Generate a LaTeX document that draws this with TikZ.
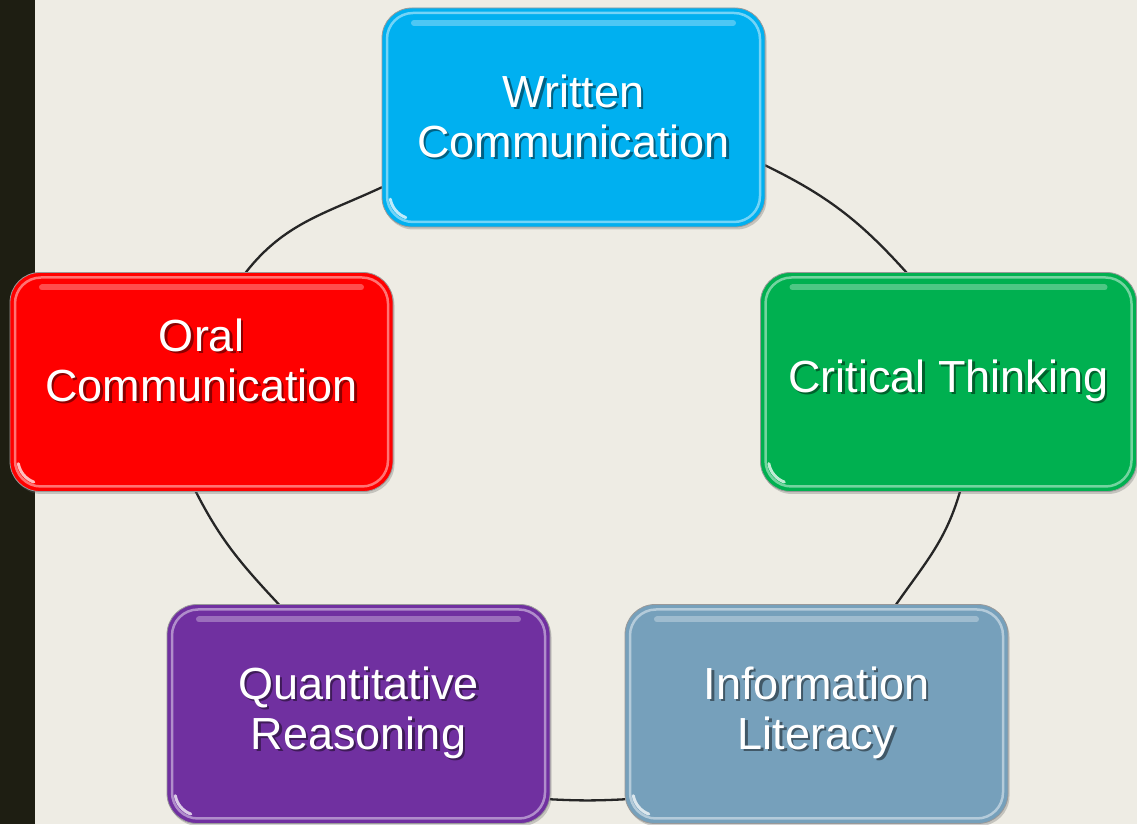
\documentclass[tikz,border=0pt]{standalone}
\usepackage{fontspec}
\setmainfont{Liberation Sans}
\usetikzlibrary{calc,shadows}
\pgfdeclarelayer{back}
\pgfdeclarelayer{lines}
\pgfsetlayers{back,lines,main}
\definecolor{bgc}{RGB}{238,236,228}
\definecolor{barc}{RGB}{30,30,18}
\definecolor{wcol}{RGB}{0,176,240}
\definecolor{ocol}{RGB}{255,0,0}
\definecolor{ccol}{RGB}{0,176,80}
\definecolor{qcol}{RGB}{112,48,160}
\definecolor{icol}{RGB}{118,160,187}
\newcommand\sh[1]{\makebox[0pt][l]{\hspace{2.5pt}\raisebox{-2.5pt}{\textcolor{shc}{#1}}}#1}
\tikzset{
  box/.style={rectangle, rounded corners=30pt, fill=#1, draw=black!40, line width=0.8pt,
    minimum width=383pt, minimum height=219pt, inner sep=0pt, outer sep=0pt,
    text=white, align=center, font=\fontsize{45}{50}\selectfont,
    execute at begin node={\colorlet{shc}{#1!55!black}},
    drop shadow={shadow xshift=1.5pt, shadow yshift=-2.5pt, opacity=0.3, fill=black!60},
    path picture={
      \draw[#1!55!white, line width=2.5pt, rounded corners=26pt]
        ($(path picture bounding box.south west)+(5pt,5pt)$) rectangle
        ($(path picture bounding box.north east)+(-5pt,-5pt)$);
      \draw[white, opacity=0.3, line width=6pt, line cap=round]
        ($(path picture bounding box.north west)+(32pt,-15pt)$) --
        ($(path picture bounding box.north east)+(-32pt,-15pt)$);
      \draw[white, opacity=0.75, line width=3pt, line cap=round]
        ($(path picture bounding box.south west)+(32pt,32pt)+(190:24pt)$)
        arc[start angle=190, end angle=250, radius=24pt];
    }},
  link/.style={draw=black!85, line width=2.3pt},
}
\begin{document}
\begin{tikzpicture}[x=1pt,y=1pt]
\useasboundingbox (0,0) rectangle (1137,824);
\begin{pgfonlayer}{back}
  \fill[bgc] (0,0) rectangle (1137,824);
  \fill[barc] (0,0) rectangle (35,824);
\end{pgfonlayer}

\node[box=wcol] (w) at (573.5,706.5) {\sh{Written}\\\sh{Communication}};
\node[box=ocol] (o) at (201.5,442) {\sh{Oral}\\\sh{Communication}\\[-6pt]\mbox{}};
\node[box=ccol, minimum width=376pt] (c) at (948.5,442) {\sh{Critical Thinking}};
\node[box=qcol] (q) at (358.5,110) {\sh{Quantitative}\\\sh{Reasoning}};
\node[box=icol] (i) at (816.5,110) {\sh{Information}\\\sh{Literacy}};

\begin{pgfonlayer}{lines}
  \draw[link] (w.200) to[out=205,in=52] (o.68);
  \draw[link] (w.346) to[out=-26,in=132] (c.111);
  \draw[link] (o.267) to[out=-63,in=133] (q.126);
  \draw[link] (c.276) to[out=-106,in=55] (i.54);
  \draw[link] (q.336) to[out=-3,in=183] (i.204);
\end{pgfonlayer}
\end{tikzpicture}
\end{document}
